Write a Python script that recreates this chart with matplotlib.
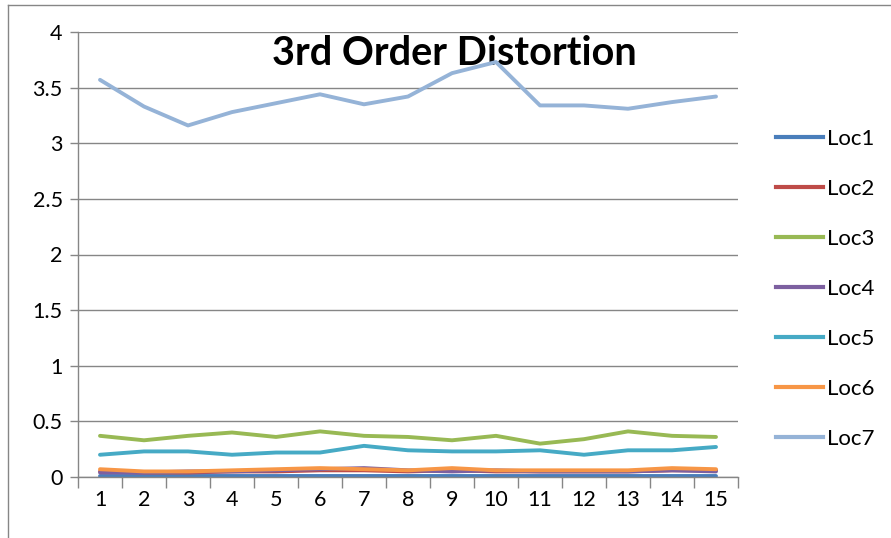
import matplotlib
matplotlib.use("Agg")
import matplotlib.pyplot as plt
from matplotlib.lines import Line2D

plt.rcParams['font.family'] = ['Lato', 'DejaVu Sans']

categories = list(range(1, 16))
loc1 = [0.01, 0.01, 0.01, 0.01, 0.01, 0.01, 0.01, 0.01, 0.01, 0.01, 0.01, 0.01, 0.01, 0.01, 0.01]
loc2 = [0.05, 0.04, 0.04, 0.05, 0.05, 0.06, 0.06, 0.05, 0.06, 0.05, 0.05, 0.05, 0.05, 0.06, 0.06]
loc3 = [0.37, 0.33, 0.37, 0.40, 0.36, 0.41, 0.37, 0.36, 0.33, 0.37, 0.30, 0.34, 0.41, 0.37, 0.36]
loc4 = [0.04, 0.04, 0.05, 0.05, 0.06, 0.07, 0.08, 0.06, 0.05, 0.06, 0.05, 0.05, 0.05, 0.06, 0.05]
loc5 = [0.20, 0.23, 0.23, 0.20, 0.22, 0.22, 0.28, 0.24, 0.23, 0.23, 0.24, 0.20, 0.24, 0.24, 0.27]
loc6 = [0.07, 0.05, 0.05, 0.06, 0.07, 0.08, 0.07, 0.06, 0.08, 0.06, 0.06, 0.06, 0.06, 0.08, 0.07]
loc7 = [3.57, 3.33, 3.16, 3.28, 3.36, 3.44, 3.35, 3.42, 3.63, 3.73, 3.34, 3.34, 3.31, 3.37, 3.42]

series_names = ["Loc1", "Loc2", "Loc3", "Loc4", "Loc5", "Loc6", "Loc7"]
series = [loc1, loc2, loc3, loc4, loc5, loc6, loc7]
colors = ["#4A7EBB", "#BE4B48", "#98B954", "#7D60A0", "#46AAC5", "#F79646", "#95B3D7"]

fig = plt.figure(figsize=(8.91, 5.38), dpi=100)
ax = fig.add_axes([78/891, 1 - 477/538, (738-78)/891, (477-32)/538])

for name, vals, c in zip(series_names, series, colors):
    ax.plot(categories, vals, color=c, lw=2.8, label=name, solid_capstyle='round')

ax.set_xlim(0.5, 15.5)
ax.set_ylim(0, 4)
ax.set_yticks([0, 0.5, 1, 1.5, 2, 2.5, 3, 3.5, 4])
ax.set_yticklabels(["0", "0.5", "1", "1.5", "2", "2.5", "3", "3.5", "4"])
ax.set_xticks(categories)
ax.set_xticks([k + 0.5 for k in range(0, 16)], minor=True)
ax.tick_params(axis='x', which='major', length=0, pad=9, labelsize=15.5)
ax.tick_params(axis='x', which='minor', length=8, color='#868686', width=1)
ax.tick_params(axis='y', length=6, color='#868686', width=1, labelsize=15.5, pad=5)
ax.yaxis.grid(True, color='#868686', lw=1)
ax.set_axisbelow(True)
for s in ['top', 'right']:
    ax.spines[s].set_visible(False)
for s in ['left', 'bottom']:
    ax.spines[s].set_color('#868686')
    ax.spines[s].set_linewidth(1)

ax.text(0.57, 0.952, "3rd Order Distortion", transform=ax.transAxes, ha='center', va='center',
        fontsize=28.5, fontweight='bold', color='black', zorder=1)

handles = [Line2D([0], [0], color=c, lw=3) for c in colors]
fig.legend(handles, series_names, loc='upper left', bbox_to_anchor=(756/891, 1 - 109/538),
           frameon=False, fontsize=16, handlelength=2.1, handletextpad=0.18, labelspacing=1.35)

fig.add_artist(Line2D([8/891, 8/891], [0, 1 - 5/538], color='#868686', lw=1, transform=fig.transFigure))
fig.add_artist(Line2D([8/891, 1], [1 - 5/538, 1 - 5/538], color='#868686', lw=1, transform=fig.transFigure))

fig.savefig("out.png", dpi=100)
